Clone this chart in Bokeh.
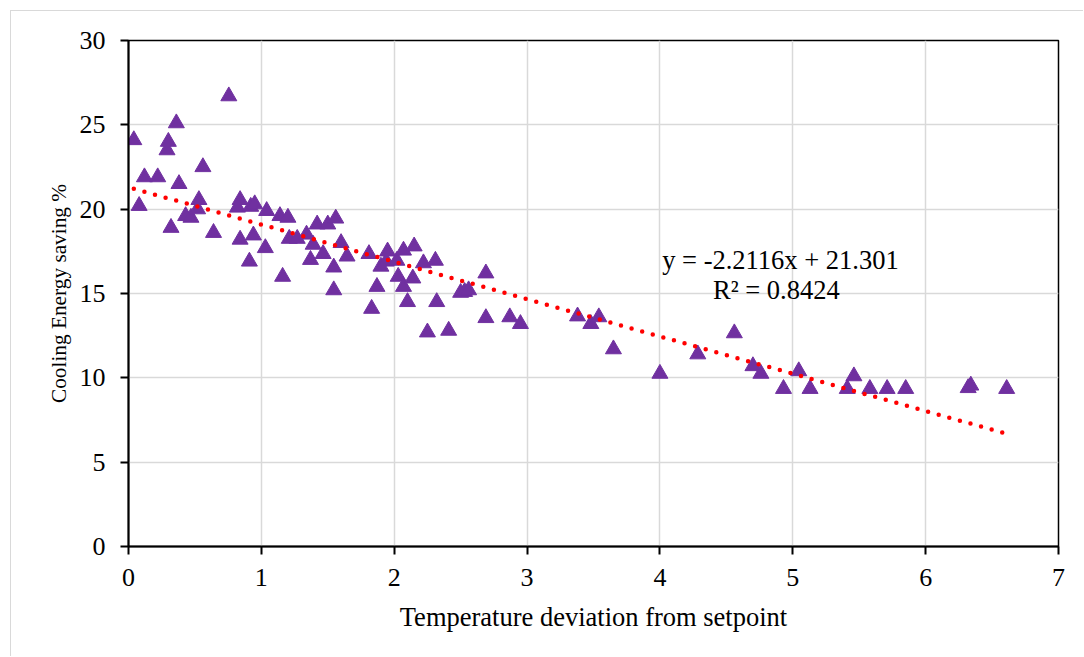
from bokeh.plotting import figure
from bokeh.models import Range1d, Label, ColumnDataSource
from bokeh.embed import file_html
from bokeh.resources import INLINE

# ---- data ----
deviation = [0.04, 0.08, 0.12, 0.22, 0.29, 0.30, 0.36, 0.32, 0.38, 0.43,
             0.47, 0.52, 0.53, 0.56, 0.64, 0.755, 0.82, 0.84, 0.84, 0.91,
             0.92, 0.95, 0.94, 1.04, 1.03, 1.14, 1.16, 1.20, 1.21, 1.27,
             1.34, 1.37, 1.39, 1.42, 1.465, 1.50, 1.56, 1.545, 1.545, 1.60,
             1.645, 1.81, 1.83, 1.87, 1.90, 1.94, 1.95, 2.02, 2.03, 2.07,
             2.07, 2.10, 2.14, 2.15, 2.22, 2.25, 2.31, 2.32, 2.41, 2.50,
             2.53, 2.56, 2.69, 2.69, 2.87, 2.95, 3.38, 3.48, 3.54, 3.65,
             4.00, 4.285, 4.56, 4.70, 4.76, 4.93, 5.045, 5.13, 5.41, 5.46,
             5.58, 5.71, 5.85, 6.32, 6.34, 6.61]
saving = [24.1, 20.2, 21.9, 21.9, 23.5, 24.0, 25.1, 18.9, 21.5, 19.6,
          19.5, 20.0, 20.55, 22.5, 18.6, 26.7, 20.1, 20.55, 18.2, 16.9,
          20.15, 20.3, 18.45, 19.9, 17.7, 19.6, 16.0, 19.5, 18.25, 18.25,
          18.5, 17.0, 17.9, 19.1, 17.35, 19.1, 19.45, 16.55, 15.2, 18.0,
          17.2, 17.35, 14.1, 15.4, 16.6, 16.9, 17.5, 16.95, 16.0, 15.4,
          17.55, 14.5, 15.9, 17.8, 16.8, 12.7, 16.95, 14.5, 12.8, 15.05,
          15.1, 15.2, 16.2, 13.55, 13.6, 13.2, 13.65, 13.2, 13.6, 11.7,
          10.25, 11.4, 12.65, 10.7, 10.25, 9.35, 10.4, 9.35, 9.35, 10.1,
          9.35, 9.35, 9.35, 9.4, 9.55, 9.35]

slope = -2.2116
intercept = 21.301
r_squared = 0.8424
x_ticks = [0, 1, 2, 3, 4, 5, 6, 7]
y_ticks = [0, 5, 10, 15, 20, 25, 30]

trend_x = [min(deviation), max(deviation)]
trend_y = [slope * v + intercept for v in trend_x]

FONT = "Liberation Serif"

p = figure(width=1073, height=646, output_backend="svg", toolbar_location=None,
           x_range=Range1d(0, 7), y_range=Range1d(0, 30),
           min_border_left=117, min_border_right=26,
           min_border_top=29, min_border_bottom=111,
           margin=(10, 0, 0, 10),
           styles={"border-top": "1px solid #d9d9d9",
                   "border-left": "1px solid #d9d9d9"})
p.background_fill_color = "white"
p.border_fill_color = "white"
p.outline_line_color = "black"
p.outline_line_width = 1.5

# grid
p.xgrid.ticker = x_ticks
p.ygrid.ticker = y_ticks
p.xgrid.grid_line_color = "#d9d9d9"
p.ygrid.grid_line_color = "#d9d9d9"
p.xgrid.grid_line_width = 1.5
p.ygrid.grid_line_width = 1.5

# axes
for ax in (p.xaxis[0], p.yaxis[0]):
    ax.axis_line_color = "black"
    ax.axis_line_width = 2
    ax.major_tick_line_color = "black"
    ax.major_tick_line_width = 2
    ax.minor_tick_line_color = "black"
    ax.minor_tick_line_width = 1.5
    ax.major_tick_in = 0
    ax.minor_tick_in = 0
    ax.major_tick_out = 8
    ax.minor_tick_out = 5
    ax.major_label_text_font = FONT
    ax.major_label_text_font_size = "26px"
    ax.major_label_text_color = "black"
    ax.axis_label_text_font = FONT
    ax.axis_label_text_font_style = "normal"
    ax.axis_label_text_color = "black"

p.xaxis.ticker = x_ticks
p.yaxis.ticker = y_ticks
p.xaxis[0].ticker.num_minor_ticks = 5
p.yaxis[0].ticker.num_minor_ticks = 5
p.xaxis.major_label_standoff = 14
p.yaxis.major_label_standoff = 15
p.xaxis.axis_label = "Temperature deviation from setpoint"
p.yaxis.axis_label = "Cooling Energy saving %"
p.xaxis.axis_label_text_font_size = "26.5px"
p.yaxis.axis_label_text_font_size = "21.3px"
p.xaxis.axis_label_standoff = 13
p.yaxis.axis_label_standoff = 6

src = ColumnDataSource(dict(x=deviation, y=saving))
p.scatter("x", "y", source=src, marker="triangle", size=16,
          fill_color="#7030A0", line_color="#7030A0")

p.line(trend_x, trend_y, line_color="#ff0000", line_width=4.5,
       line_dash="0 11", line_cap="round")

p.add_layout(Label(x=4.907, y=16.97, text=f"y = {slope}x + {intercept}",
                   text_font=FONT, text_font_size="26.5px", text_color="black",
                   text_align="center", text_baseline="alphabetic"))
p.add_layout(Label(x=4.876, y=15.2, text=f"R\u00b2 = {r_squared}",
                   text_font=FONT, text_font_size="26.5px", text_color="black",
                   text_align="center", text_baseline="alphabetic"))

open("out.html", "w").write(file_html(p, INLINE))
